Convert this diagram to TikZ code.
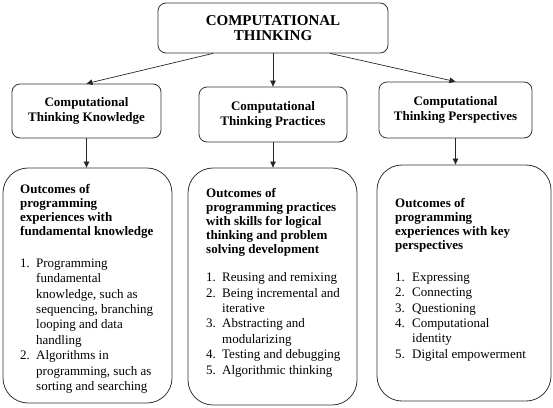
\documentclass[tikz,border=0pt]{standalone}
\usepackage{fontspec}
\setmainfont{Liberation Serif}
\usetikzlibrary{arrows.meta}

\begin{document}
\begin{tikzpicture}[x=1pt,y=-1pt,
  box/.style={draw=black!80, line width=0.8pt, rounded corners=8pt, inner sep=0pt, align=center, font=\fontsize{13}{15}\selectfont\bfseries},
  bigbox/.style={draw=black!80, line width=0.8pt, rounded corners=25pt, inner sep=0pt},
  head/.style={anchor=north west, inner sep=0pt, align=left, font=\fontsize{13}{14}\selectfont\bfseries},
  items/.style={anchor=north west, inner sep=0pt, font=\fontsize{13}{15.4}\selectfont},
  link/.style={-{Triangle[length=6pt,width=5.5pt]}, line width=0.7pt, black!85}]
\useasboundingbox (0,0) rectangle (553,407);
% top and second row
\node[box, minimum width=230pt, minimum height=50pt, font=\fontsize{15}{14.5}\selectfont\bfseries] (ct) at (273,28) {COMPUTATIONAL\\THINKING};
\node[box, minimum width=149pt, minimum height=54pt] (ck) at (86.5,111) {Computational\\Thinking Knowledge};
\node[box, minimum width=148pt, minimum height=55pt] (cp) at (273,114.5) {Computational\\Thinking Practices};
\node[box, minimum width=153pt, minimum height=56pt] (cpe) at (455.5,110) {Computational\\Thinking Perspectives};
% outcome boxes
\node[bigbox, minimum width=169pt, minimum height=235pt] (ok) at (87.5,285.5) {};
\node[bigbox, minimum width=169pt, minimum height=237pt] (op) at (272.5,286.5) {};
\node[bigbox, minimum width=174pt, minimum height=236pt] (ope) at (464,283) {};
\node[head] (okh) at (20,184.6) {Outcomes of\\programming\\experiences with\\fundamental knowledge};
\node[items] (okl) at (20,256.4) {\begin{tabular}{@{}p{16pt}@{}l@{}}
  1. & Programming\\ & fundamental\\ & knowledge, such as\\ & sequencing, branching\\ & looping and data\\ & handling\\
  2. & Algorithms in\\ & programming, such as\\ & sorting and searching
  \end{tabular}};
\node[head] (oph) at (206,188.6) {Outcomes of\\programming practices\\with skills for logical\\thinking and problem\\solving development};
\node[items] (opl) at (206,270.7) {\begin{tabular}{@{}p{16pt}@{}l@{}}
  1. & Reusing and remixing\\
  2. & Being incremental and\\ & iterative\\
  3. & Abstracting and\\ & modularizing\\
  4. & Testing and debugging\\
  5. & Algorithmic thinking
  \end{tabular}};
\node[head] (opeh) at (395,198.6) {Outcomes of\\programming\\experiences with key\\perspectives};
\node[items] (opel) at (395,270.4) {\begin{tabular}{@{}p{17pt}@{}l@{}}
  1. & Expressing\\
  2. & Connecting\\
  3. & Questioning\\
  4. & Computational\\ & identity\\
  5. & Digital empowerment
  \end{tabular}};
% arrows
\draw[link] ([xshift=-60pt]ct.south) -- (ck.north);
\draw[link] (ct.south) -- (cp.north);
\draw[link] ([xshift=57pt]ct.south) -- (cpe.north);
\draw[link] (ck.south) -- (ck.south |- ok.north);
\draw[link] (cp.south) -- (cp.south |- op.north);
\draw[link] (cpe.south) -- (cpe.south |- ope.north);
\end{tikzpicture}
\end{document}
